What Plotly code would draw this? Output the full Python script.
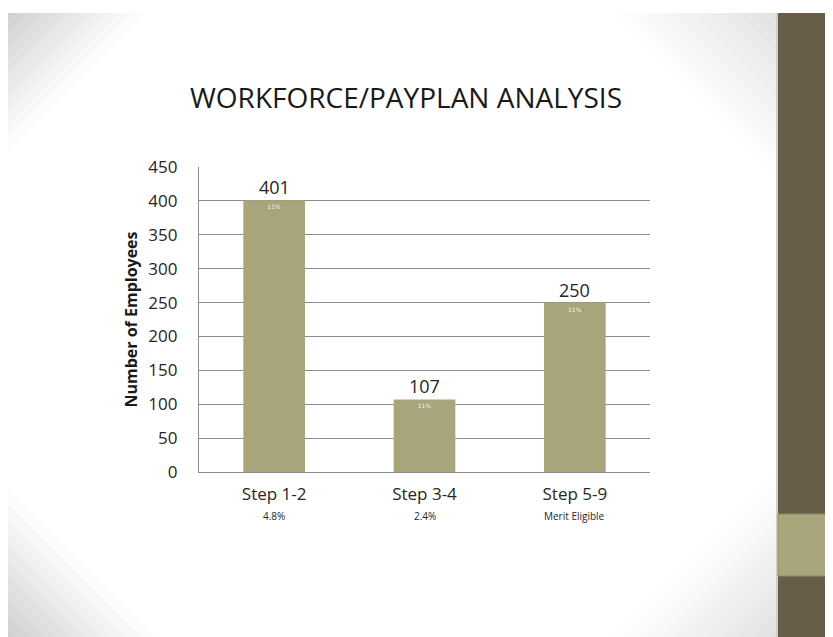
import plotly.graph_objects as go

categories = ["Step 1-2", "Step 3-4", "Step 5-9"]
sublabels = ["4.8%", "2.4%", "Merit Eligible"]
employees = [401, 107, 250]
inner_labels = ["11%", "11%", "11%"]
y_ticks = [0, 50, 100, 150, 200, 250, 300, 350, 400, 450]

bar_color = "#A8A47B"
panel_dark = "#665E48"
panel_light = "#A9A57C"

W, H = 825, 629
L, R, T, B = 191, 183, 159, 165
PW, PH = W - L - R, H - T - B

def px_x(x):
    return (x - L) / PW

def px_y(y):
    return (H - B - y) / PH

fig = go.Figure()
fig.add_trace(go.Bar(
    x=categories, y=employees, width=0.41,
    marker=dict(color=bar_color, line=dict(width=0)),
    text=inner_labels, textposition="inside", insidetextanchor="end",
    textfont=dict(size=6, color="#f4f4ec", family="DejaVu Sans"),
    hoverinfo="x+y",
))

for c, v in zip(categories, employees):
    fig.add_annotation(x=c, y=v, text=str(v), showarrow=False, yanchor="bottom", yshift=-1,
                       font=dict(size=18, color="#262626", family="Open Sans"))

for c, s in zip(categories, sublabels):
    fig.add_annotation(x=c, y=px_y(508), yref="paper", text=s, showarrow=False, yanchor="middle",
                       font=dict(size=10, color="#262626", family="Open Sans"))

shapes = []

def corner(cx, cy, dx, dy, size, darkest, steps=12):
    for i in range(steps):
        f = i / (steps - 1)
        Ls = size * (1 - f * 0.95)
        g = int(round(255 - (255 - darkest) * (f ** 1.1)))
        col = f"rgb({g},{g},{g})"
        path = (f"M {px_x(cx)},{px_y(cy)} L {px_x(cx + dx * Ls)},{px_y(cy)} "
                f"L {px_x(cx)},{px_y(cy + dy * Ls)} Z")
        shapes.append(dict(type="path", xref="paper", yref="paper", path=path,
                           fillcolor=col, line=dict(width=0), layer="below"))

corner(0, 5, 1, 1, 150, 208)
corner(0, 629, 1, -1, 160, 208)
corner(770, 5, -1, 1, 180, 225)
corner(770, 629, -1, -1, 180, 225)

# white top margin
shapes.append(dict(type="rect", xref="paper", yref="paper", x0=px_x(-5), x1=px_x(W + 5), y0=px_y(5), y1=px_y(-5),
                   fillcolor="white", line=dict(width=0), layer="below"))
# right panel
shapes.append(dict(type="rect", xref="paper", yref="paper", x0=px_x(770), x1=px_x(W + 5), y0=px_y(H + 5), y1=px_y(5),
                   fillcolor=panel_dark, line=dict(width=0), layer="below"))
shapes.append(dict(type="rect", xref="paper", yref="paper", x0=px_x(768), x1=px_x(770), y0=px_y(H + 5), y1=px_y(5),
                   fillcolor="#cfcfcf", line=dict(width=0), layer="below"))
shapes.append(dict(type="rect", xref="paper", yref="paper", x0=px_x(770), x1=px_x(W + 5), y0=px_y(568), y1=px_y(506),
                   fillcolor=panel_light, line=dict(color="#8f8a68", width=1), layer="below"))

fig.update_layout(
    width=W, height=H,
    margin=dict(l=L, r=R, t=T, b=B),
    paper_bgcolor="white", plot_bgcolor="rgba(0,0,0,0)",
    shapes=shapes,
    showlegend=False,
    title=dict(text="WORKFORCE/PAYPLAN ANALYSIS", x=398 / W, xanchor="center", y=1 - 90 / H, yanchor="middle",
               font=dict(size=28, color="#1a1a1a", family="Open Sans")),
    font=dict(family="Open Sans", color="#262626"),
)
fig.update_xaxes(tickvals=categories, ticktext=categories, tickfont=dict(size=17, color="#262626"),
                 showline=True, linecolor="#8c8c8c", linewidth=1, ticks="", showgrid=False,
                 range=[-0.5, 2.5], ticklabelstandoff=7)
fig.update_yaxes(range=[0, 450], tickvals=y_ticks, tickfont=dict(size=17, color="#262626"),
                 showgrid=True, gridcolor="#8c8c8c", gridwidth=1.2, showline=True, linecolor="#8c8c8c",
                 linewidth=1.2, ticks="", zeroline=False, ticklabelstandoff=17,
                 title=dict(text="<b>Number of Employees</b>", font=dict(size=16, color="#1a1a1a"), standoff=6))

fig.write_html("out.html")
